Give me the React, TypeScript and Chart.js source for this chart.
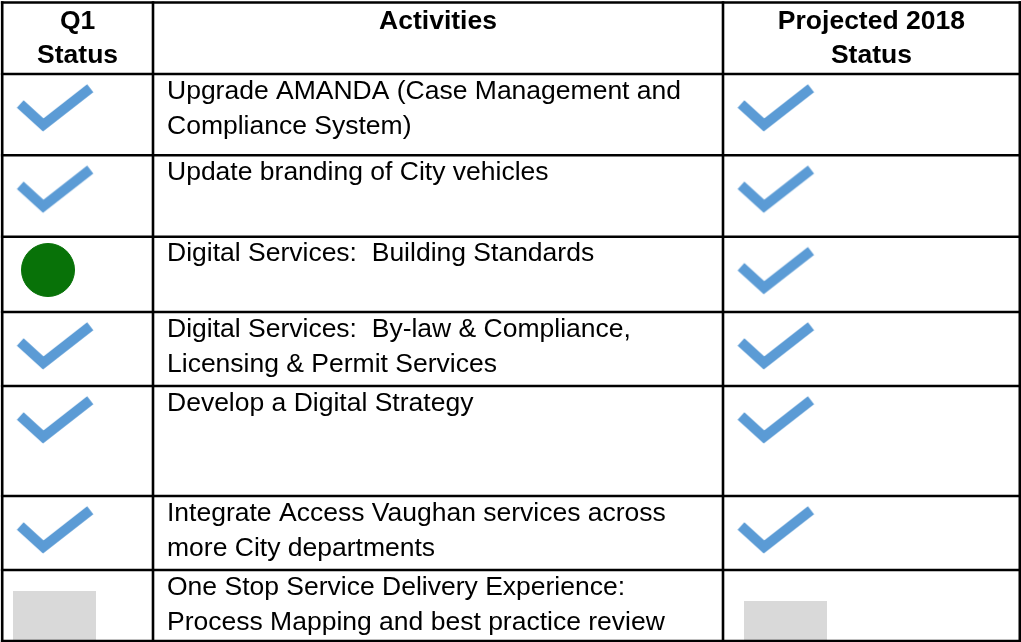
import React, { useEffect, useRef } from "react";
import { Chart, registerables } from "chart.js";

Chart.register(...registerables);

// ---------- data ----------
const headerLabels: string[][] = [["Q1", "Status"], ["Activities"], ["Projected 2018", "Status"]];
const activities: string[][] = [
  ["Upgrade AMANDA (Case Management and", "Compliance System)"],
  ["Update branding of City vehicles"],
  ["Digital Services:  Building Standards"],
  ["Digital Services:  By-law & Compliance,", "Licensing & Permit Services"],
  ["Develop a Digital Strategy"],
  ["Integrate Access Vaughan services across", "more City departments"],
  ["One Stop Service Delivery Experience:", "Process Mapping and best practice review"],
];
const q1Status: string[] = ["complete", "complete", "onTrack", "complete", "complete", "complete", "notStarted"];
const projectedStatus: string[] = ["complete", "complete", "complete", "complete", "complete", "complete", "notStarted"];

// ---------- layout (pixels in the table's own coordinate space) ----------
const W = 1021;
const H = 642;
const COL_EDGES = [2.2, 153, 723, 1019.8];
const ROW_EDGES = [2.5, 74, 155.3, 236.7, 312, 386, 496, 570, 641];
const LINE_W = 2.6;
const FONT_SIZE = 26.5;
const FONT_FAMILY = '"Liberation Sans", Arial, Helvetica, sans-serif';
const BODY_X_PAD = 14;
const BODY_FIRST_BASELINE = 24.5;
const LINE_STEP = 35;
const HEADER_BASELINES = [29, 63];

// marker offsets relative to cell (left edge, top edge) per status / column
const MARKER_OFFSETS: Record<string, [number, number][]> = {
  complete: [[52.5, 35], [52.5, 35]],
  onTrack: [[45.8, 33.3], [45.8, 33.3]],
  notStarted: [[52.5, 62.5], [62, 72.5]],
};

const CHECK_COLOR = "#5b9bd5";
const GREEN = "#087208";
const GRAY = "#d9d9d9";

function makeCheck(): HTMLCanvasElement {
  const c = document.createElement("canvas");
  c.width = 84;
  c.height = 56;
  const g = c.getContext("2d")!;
  const cx = 42, cy = 28;
  g.strokeStyle = CHECK_COLOR;
  g.lineWidth = 10;
  g.lineCap = "butt";
  g.lineJoin = "miter";
  g.beginPath();
  g.moveTo(cx - 34.5, cy - 5);
  g.lineTo(cx - 11.5, cy + 16);
  g.lineTo(cx + 35.5, cy - 20.7);
  g.stroke();
  return c;
}

function makeGrayBox(): HTMLCanvasElement {
  const c = document.createElement("canvas");
  c.width = 83;
  c.height = 83;
  const g = c.getContext("2d")!;
  g.fillStyle = GRAY;
  g.fillRect(0, 0, 83, 83);
  return c;
}

function pointsFor(status: string) {
  const pts: { x: number; y: number }[] = [];
  const cols: [number, string[]][] = [[0, q1Status], [2, projectedStatus]];
  cols.forEach(([col, arr], ci) => {
    arr.forEach((s, r) => {
      if (s !== status) return;
      const [dx, dy] = MARKER_OFFSETS[status][ci];
      pts.push({ x: COL_EDGES[col] + dx, y: ROW_EDGES[r + 1] + dy });
    });
  });
  return pts;
}

const tablePlugin = {
  id: "tableGrid",
  beforeDraw(chart: any) {
    const ctx = chart.ctx;
    ctx.save();
    ctx.fillStyle = "#ffffff";
    ctx.fillRect(0, 0, chart.width, chart.height);
    ctx.restore();
  },
  beforeDatasetsDraw(chart: any) {
    const ctx = chart.ctx;
    const xs = chart.scales.x;
    const ys = chart.scales.y;
    ctx.save();
    ctx.fillStyle = "#000000";
    ctx.textBaseline = "alphabetic";
    // header
    ctx.font = `bold ${FONT_SIZE}px ${FONT_FAMILY}`;
    ctx.textAlign = "center";
    headerLabels.forEach((lines, c) => {
      const cx = xs.getPixelForValue((COL_EDGES[c] + COL_EDGES[c + 1]) / 2);
      lines.forEach((t, i) => {
        ctx.fillText(t, cx, ys.getPixelForValue(HEADER_BASELINES[i]));
      });
    });
    // body
    ctx.font = `${FONT_SIZE}px ${FONT_FAMILY}`;
    ctx.textAlign = "left";
    activities.forEach((lines, r) => {
      const top = ROW_EDGES[r + 1];
      lines.forEach((t, i) => {
        ctx.fillText(
          t,
          xs.getPixelForValue(COL_EDGES[1] + BODY_X_PAD),
          ys.getPixelForValue(top + BODY_FIRST_BASELINE + i * LINE_STEP)
        );
      });
    });
    ctx.restore();
  },
  afterDatasetsDraw(chart: any) {
    const ctx = chart.ctx;
    const xs = chart.scales.x;
    const ys = chart.scales.y;
    ctx.save();
    ctx.strokeStyle = "#000000";
    ctx.lineWidth = LINE_W;
    ctx.lineCap = "square";
    const x0 = xs.getPixelForValue(COL_EDGES[0]);
    const x1 = xs.getPixelForValue(COL_EDGES[COL_EDGES.length - 1]);
    const y0 = ys.getPixelForValue(ROW_EDGES[0]);
    const y1 = ys.getPixelForValue(ROW_EDGES[ROW_EDGES.length - 1]);
    ROW_EDGES.forEach((ry) => {
      const py = ys.getPixelForValue(ry);
      ctx.beginPath();
      ctx.moveTo(x0, py);
      ctx.lineTo(x1, py);
      ctx.stroke();
    });
    COL_EDGES.forEach((cx) => {
      const px = xs.getPixelForValue(cx);
      ctx.beginPath();
      ctx.moveTo(px, y0);
      ctx.lineTo(px, y1);
      ctx.stroke();
    });
    ctx.restore();
  },
};

export default function App() {
  const ref = useRef<HTMLCanvasElement | null>(null);
  useEffect(() => {
    if (!ref.current) return;
    const check = makeCheck();
    const box = makeGrayBox();
    const chart = new Chart(ref.current, {
      type: "scatter",
      data: {
        datasets: [
          {
            label: "Complete",
            data: pointsFor("complete"),
            pointStyle: check as any,
            pointRadius: 40,
            clip: false as any,
          },
          {
            label: "On track",
            data: pointsFor("onTrack"),
            pointStyle: "circle",
            pointRadius: 26.5,
            backgroundColor: GREEN,
            borderColor: GREEN,
            borderWidth: 1,
            clip: false as any,
          },
          {
            label: "Not started",
            data: pointsFor("notStarted"),
            pointStyle: box as any,
            pointRadius: 60,
            clip: false as any,
          },
        ],
      },
      options: {
        animation: false,
        responsive: false,
        devicePixelRatio: 1,
        events: [],
        layout: { padding: 0, autoPadding: false },
        plugins: { legend: { display: false }, tooltip: { enabled: false } },
        scales: {
          x: { type: "linear", min: 0, max: W, display: false },
          y: { type: "linear", min: 0, max: H, reverse: true, display: false },
        },
      },
      plugins: [tablePlugin],
    });
    return () => chart.destroy();
  }, []);
  return (
    <div style={{ position: "absolute", left: 0, top: 0, width: W, height: H, background: "#fff" }}>
      <canvas ref={ref} width={W} height={H} style={{ display: "block", width: W, height: H }} />
    </div>
  );
}
